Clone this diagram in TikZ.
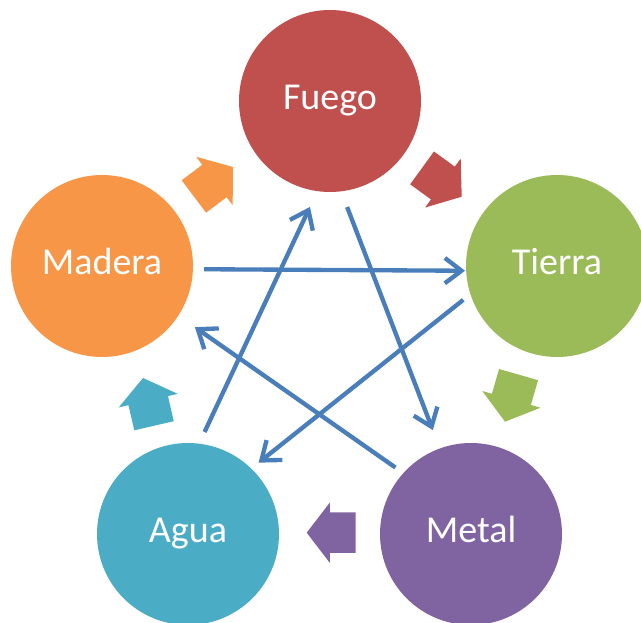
\documentclass[tikz,border=0pt]{standalone}
\usepackage{fontspec}
\setmainfont{Carlito}
\usetikzlibrary{shapes.arrows,arrows.meta}

\definecolor{fuegored}{RGB}{192,80,77}
\definecolor{tierragreen}{RGB}{155,187,89}
\definecolor{metalpurple}{RGB}{128,100,162}
\definecolor{aguablue}{RGB}{75,172,198}
\definecolor{maderaorange}{RGB}{247,150,70}
\definecolor{linkblue}{RGB}{74,126,187}

\begin{document}
\begin{tikzpicture}[x=0.75pt, y=-0.75pt,
  element/.style={circle, inner sep=0pt, outer sep=0pt, minimum size=136.5pt,
    text=white, font=\fontsize{28.5}{32}\selectfont, text height=12.8pt, text depth=0pt},
  cyclearrow/.style={single arrow, inner xsep=0pt, inner ysep=15pt, outer sep=0pt, anchor=tip,
    minimum height=36.75pt, single arrow head extend=7.5pt, single arrow tip angle=105},
  link/.style={draw=linkblue, line width=3.25pt, -{Straight Barb[length=12.5pt,width=19pt]}}]

\useasboundingbox (0,0) rectangle (641,623);

% element circles section
\node[element, fill=fuegored] (fuego) at (330,101) {Fuego};
\node[element, fill=tierragreen] (tierra) at (557,266) {Tierra};
\node[element, fill=metalpurple] (metal) at (471,534) {Metal};
\node[element, fill=aguablue] (agua) at (188,534) {Agua};
\node[element, fill=maderaorange] (madera) at (102,266) {Madera};

% generating cycle section
\node[cyclearrow, fill=maderaorange, rotate=37] (maderafuego) at (233,167) {};
\node[cyclearrow, fill=fuegored, rotate=-36] (fuegotierra) at (461.7,196.7) {};
\node[cyclearrow, fill=tierragreen, rotate=-106] (tierrametal) at (505,421.7) {};
\node[cyclearrow, fill=metalpurple, rotate=180] (metalagua) at (306.7,532.7) {};
\node[cyclearrow, fill=aguablue, rotate=103] (aguamadera) at (143,378) {};

% star section
\draw[link, shorten <=8.3pt, shorten >=0.8pt] (madera.-2) -- (tierra.-177.5);
\draw[link, shorten <=12.6pt, shorten >=14.8pt] (fuego.-83) -- (metal.110);
\draw[link, shorten <=7.3pt, shorten >=15.2pt] (metal.138) -- (madera.-33);
\draw[link, shorten <=6.9pt, shorten >=7.1pt] (tierra.-162.5) -- (agua.46.6);
\draw[link, shorten <=9.7pt, shorten >=13.1pt] (agua.83) -- (fuego.-98);

\end{tikzpicture}
\end{document}
